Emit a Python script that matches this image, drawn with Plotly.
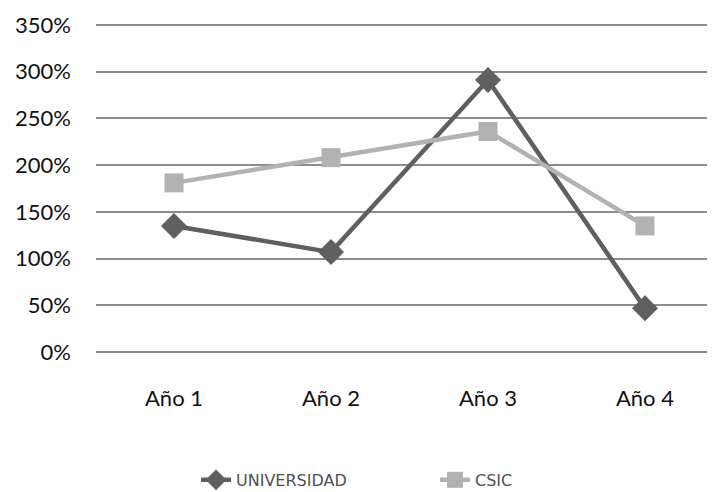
import plotly.graph_objects as go

categories = ["Año 1", "Año 2", "Año 3", "Año 4"]
universidad = [1.35, 1.07, 2.91, 0.47]
csic = [1.81, 2.08, 2.36, 1.35]
y_ticks = [0, 0.5, 1.0, 1.5, 2.0, 2.5, 3.0, 3.5]
y_tick_labels = ["0%", "50%", "100%", "150%", "200%", "250%", "300%", "350%"]

fig = go.Figure()
fig.add_trace(go.Scatter(
    x=categories, y=universidad, name="UNIVERSIDAD", mode="lines+markers",
    line=dict(color="#5f5f5f", width=4.5),
    marker=dict(symbol="diamond", size=20, color="#5f5f5f"),
))
fig.add_trace(go.Scatter(
    x=categories, y=csic, name="CSIC", mode="lines+markers",
    line=dict(color="#b2b2b2", width=4.5),
    marker=dict(symbol="square", size=19, color="#b2b2b2"),
))

# page body has an 8px margin, so the figure is sized/offset to compensate
fig.update_layout(
    width=707, height=484,
    margin=dict(l=88, r=0, t=14, b=137, autoexpand=False),
    paper_bgcolor="white", plot_bgcolor="white",
    font=dict(family="Lato, Open Sans, sans-serif", size=22, color="#111111"),
    showlegend=True,
    legend=dict(orientation="h", x=0.1616, xanchor="left", y=-0.375, yanchor="middle",
                font=dict(family="DejaVu Sans, Verdana, sans-serif", size=16, color="#505050"),
                tracegroupgap=0, entrywidth=194, entrywidthmode="pixels"),
    xaxis=dict(type="category", range=[-0.497, 3.446], showgrid=False,
               showline=False, zeroline=False, ticks="", ticklabelstandoff=28),
    yaxis=dict(range=[-0.03, 3.53], tickvals=y_ticks, ticktext=y_tick_labels,
               showgrid=True, gridcolor="#8c8c8c", gridwidth=1.5,
               zeroline=False, showline=False, ticks="", ticklabelstandoff=24),
)

fig.write_html("out.html")
